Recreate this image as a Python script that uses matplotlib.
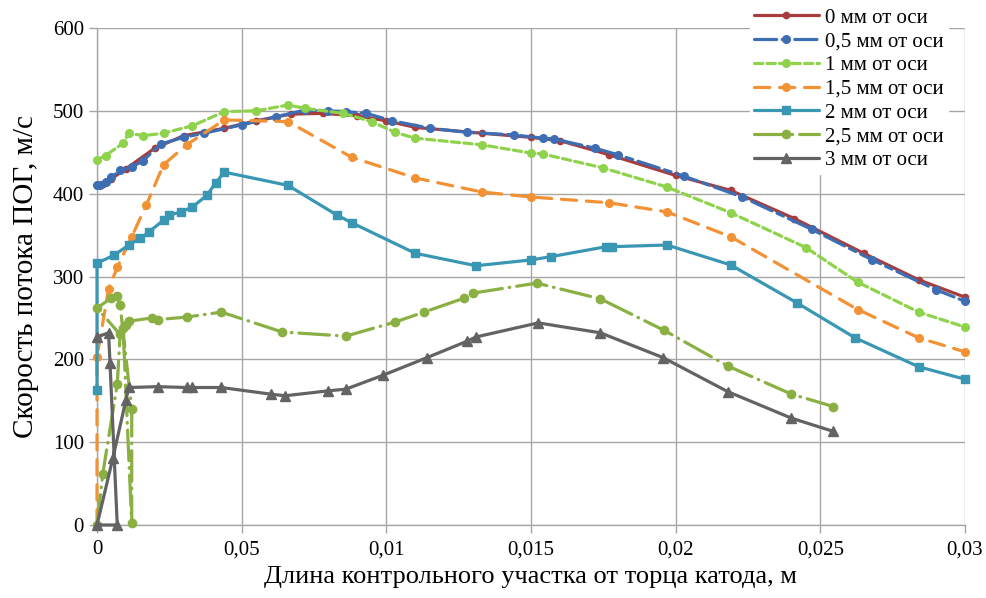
import matplotlib
matplotlib.use("Agg")
import matplotlib.pyplot as plt
from matplotlib.ticker import FixedLocator, FixedFormatter

plt.rcParams['font.family'] = ['Liberation Serif', 'DejaVu Serif']
plt.rcParams['lines.scale_dashes'] = False

# ---- data ----
x_0 = [0, 0.0002, 0.0005, 0.0010, 0.0020, 0.0030, 0.0044, 0.0055, 0.0067, 0.0078, 0.0090,
       0.0100, 0.0110, 0.0133, 0.0150, 0.0160, 0.0177, 0.0200, 0.0219, 0.0241, 0.0265,
       0.0284, 0.0300]
y_0 = [410, 412, 418, 430, 455, 470, 479, 488, 496, 497, 494,
       488, 480, 473, 468, 464, 447, 422, 404, 370, 328,
       296, 275]

x_05 = [0, 0.0001, 0.0003, 0.0005, 0.0008, 0.0012, 0.0016, 0.0022, 0.0030, 0.0037, 0.0050,
        0.0062, 0.0072, 0.0080, 0.0086, 0.0093, 0.0102, 0.0115, 0.0128, 0.0144, 0.0154,
        0.0158, 0.0172, 0.0180, 0.0203, 0.0223, 0.0247, 0.0268, 0.0290, 0.0300]
y_05 = [410, 411, 414, 420, 428, 432, 440, 460, 468, 473, 483,
        493, 501, 500, 499, 497, 488, 479, 474, 471, 467,
        466, 455, 447, 421, 396, 357, 320, 284, 270]

x_1 = [0, 0.0003, 0.0009, 0.0011, 0.0016, 0.0023, 0.0033, 0.0044, 0.0055, 0.0066, 0.0072,
       0.0085, 0.0095, 0.0103, 0.0110, 0.0133, 0.0150, 0.0154, 0.0175, 0.0197, 0.0219,
       0.0245, 0.0263, 0.0284, 0.0300]
y_1 = [441, 446, 461, 473, 470, 473, 482, 499, 500, 507, 503,
       497, 487, 474, 467, 459, 449, 448, 431, 408, 377,
       335, 293, 257, 239]

x_15 = [0, 0, 0.0004, 0.0007, 0.0012, 0.0017, 0.0023, 0.0031, 0.0044, 0.0066, 0.0088,
        0.0110, 0.0133, 0.0150, 0.0177, 0.0197, 0.0219, 0.0263, 0.0284, 0.0300]
y_15 = [0, 203, 285, 311, 348, 386, 435, 459, 489, 487, 444,
        419, 402, 396, 389, 378, 348, 260, 226, 209]

x_2 = [0, 0, 0.0006, 0.0011, 0.0015, 0.0018, 0.0023, 0.0025, 0.0029, 0.0033, 0.0038,
       0.0041, 0.0044, 0.0066, 0.0083, 0.0088, 0.0110, 0.0131, 0.0150, 0.0157, 0.0176,
       0.0178, 0.0197, 0.0219, 0.0242, 0.0262, 0.0284, 0.0300]
y_2 = [163, 316, 326, 338, 346, 354, 368, 374, 378, 384, 398,
       413, 426, 410, 374, 365, 328, 313, 320, 324, 336,
       336, 338, 314, 268, 226, 191, 176]

x_25 = [0, 0.0002, 0.0007, 0.0008, 0, 0.0005, 0.0007, 0.0008, 0.0012, 0.0012, 0.0009,
        0.0010, 0.0011, 0.0019, 0.0021, 0.0031, 0.0043, 0.0064, 0.0086, 0.0103, 0.0113,
        0.0127, 0.0130, 0.0152, 0.0174, 0.0196, 0.0218, 0.0240, 0.02545]
y_25 = [0, 62, 170, 230, 262, 274, 276, 265, 140, 2, 238,
        242, 246, 250, 248, 251, 257, 233, 228, 245, 257,
        274, 280, 292, 273, 235, 192, 158, 143]

x_3 = [0, 0.0004, 0.00045, 0.0007, 0, 0.00055, 0.0010, 0.0011, 0.0021, 0.0031, 0.0033,
       0.0043, 0.0060, 0.0065, 0.0080, 0.0086, 0.0099, 0.0114, 0.0128, 0.0131, 0.01525,
       0.0174, 0.01957, 0.0218, 0.0240, 0.02545]
y_3 = [227, 232, 195, 0, 0, 81, 151, 166, 167, 166, 166,
       166, 158, 156, 162, 164, 181, 202, 222, 227, 244,
       232, 202, 161, 129, 113]

labels = ['0 мм от оси', '0,5 мм от оси', '1 мм от оси', '1,5 мм от оси',
          '2 мм от оси', '2,5 мм от оси', '3 мм от оси']
x_ticks = [0, 0.005, 0.01, 0.015, 0.02, 0.025, 0.03]
x_tick_labels = ['0', '0,05', '0,01', '0,015', '0,02', '0,025', '0,03']
y_ticks = [0, 100, 200, 300, 400, 500, 600]

# ---- figure ----
fig = plt.figure(figsize=(9.86, 5.98), dpi=100)
ax = fig.add_axes([97/986, 1-525/598, (965-97)/986, (525-28)/598])

series = [
    (x_0, y_0, dict(color='#A83C3C', ls='-', marker='o', ms=4.5)),
    (x_05, y_05, dict(color='#3D6DB3', ls=(0, (16, 4, 5, 4)), marker='o', ms=5.5)),
    (x_1, y_1, dict(color='#8FD24B', ls=(0, (6, 3)), marker='o', ms=5.5)),
    (x_15, y_15, dict(color='#F29234', ls=(0, (11, 7)), marker='o', ms=5.5)),
    (x_2, y_2, dict(color='#3A97B3', ls='-', marker='s', ms=5.5)),
    (x_25, y_25, dict(color='#8AB043', ls=(0, (22, 5, 0.5, 5)), marker='o', ms=6)),
    (x_3, y_3, dict(color='#636363', ls='-', marker='^', ms=7.5)),
]
for (xs, ys, st), lab in zip(series, labels):
    ax.plot(xs, ys, color=st['color'], linestyle=st['ls'], linewidth=2.3,
            marker=st['marker'], markersize=st['ms'], markeredgecolor=st['color'],
            markerfacecolor=st['color'], label=lab, dash_capstyle='round',
            solid_capstyle='round', clip_on=False, zorder=3)

ax.set_xlim(0, 0.03)
ax.set_ylim(0, 600)
ax.xaxis.set_major_locator(FixedLocator(x_ticks))
ax.xaxis.set_major_formatter(FixedFormatter(x_tick_labels))
ax.yaxis.set_major_locator(FixedLocator(y_ticks))
ax.grid(True, color='#A6A6A6', linewidth=1.0, zorder=0)
ax.set_axisbelow(True)
for s in ['top', 'right']:
    ax.spines[s].set_visible(False)
for s in ['left', 'bottom']:
    ax.spines[s].set_color('#A6A6A6')
    ax.spines[s].set_linewidth(1.0)
ax.tick_params(axis='both', colors='#A6A6A6', labelcolor='black', labelsize=15,
               length=6, width=1.0, direction='out')
ax.tick_params(axis='x', pad=5)
ax.set_xlabel('Длина контрольного участка от торца катода, м', fontsize=19, labelpad=5)
ax.set_ylabel('Скорость потока ПОГ, м/с', fontsize=21, labelpad=10)

leg = fig.legend(loc='upper left', bbox_to_anchor=(750/986, 1.0 - 4/598), fontsize=15,
                 frameon=True, framealpha=1.0, edgecolor='white', facecolor='white',
                 handlelength=3.1, handletextpad=0.3, labelspacing=0.2,
                 borderpad=0.2, borderaxespad=0.0, fancybox=False)

fig.savefig('out.png', dpi=100)
